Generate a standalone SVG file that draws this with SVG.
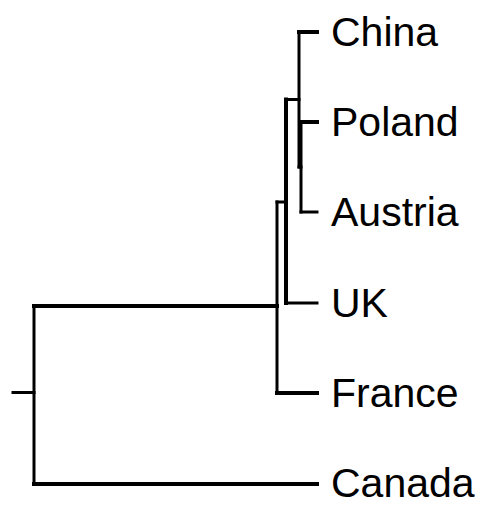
<svg xmlns="http://www.w3.org/2000/svg" width="486" height="506" viewBox="0 0 486 506">
<style>
.e{fill:none;stroke:#000;stroke-width:3;stroke-linecap:square;stroke-linejoin:miter}
.t{stroke-width:4}
.lbl{font-family:"Liberation Sans",Arial,sans-serif;font-size:41px;fill:#000}
</style>
<rect width="486" height="506" fill="#fff"/>
<g id="connectors">
<path class="e" d="M13,392.5H34"/>
<path class="e" d="M34,306V484"/>
<path class="e t" d="M34,306H277"/>
<path class="e t" d="M34,484H317"/>
<path class="e" d="M277,202V393"/>
<path class="e t" d="M277,393H317"/>
<path class="e" d="M277,202H286"/>
<path class="e t" d="M286,99.5V303"/>
<path class="e" d="M286,303H317"/>
<path class="e" d="M286,99.5H299"/>
<path class="e" d="M299,32V167"/>
<path class="e t" d="M299,32H317"/>
<path class="e" d="M299,167H301"/>
<path class="e" d="M301,122V212"/>
<path class="e t" d="M301,122H317"/>
<path class="e" d="M301,212H317"/>
</g>
<g id="node-china"><text class="lbl" x="331" y="46">China</text></g>
<g id="node-poland"><text class="lbl" x="331" y="136">Poland</text></g>
<g id="node-austria"><text class="lbl" x="331" y="226">Austria</text></g>
<g id="node-uk"><text class="lbl" x="331" y="317">UK</text></g>
<g id="node-france"><text class="lbl" x="331" y="407">France</text></g>
<g id="node-canada"><text class="lbl" x="331" y="497">Canada</text></g>
</svg>
